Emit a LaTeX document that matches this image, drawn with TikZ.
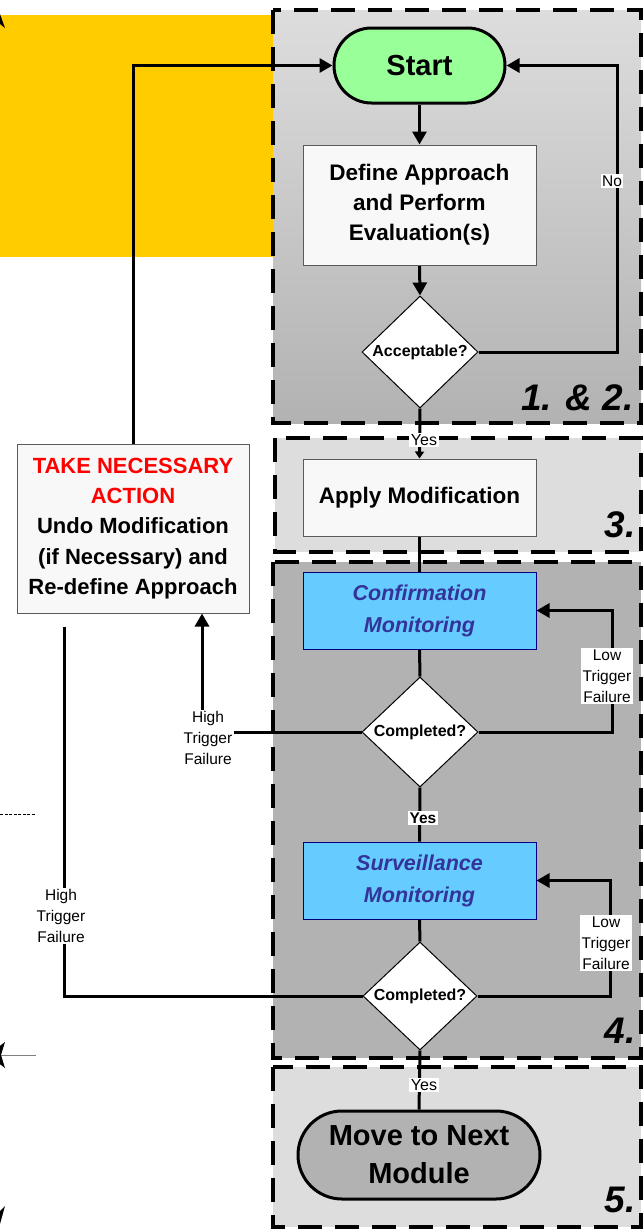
\documentclass[tikz,border=0pt]{standalone}
\usepackage{fontspec}
\setmainfont{Liberation Sans}
\usetikzlibrary{shapes.geometric,shapes.misc,arrows.meta}
\definecolor{yel}{RGB}{255,204,0}
\definecolor{lgray}{RGB}{221,221,221}
\definecolor{mgray}{RGB}{178,178,178}
\definecolor{sgreen}{RGB}{153,255,153}
\definecolor{sblue}{RGB}{102,204,255}
\definecolor{tblue}{RGB}{51,51,153}
\definecolor{navy}{RGB}{0,0,128}
\definecolor{boxfill}{RGB}{248,248,248}
\definecolor{boxline}{RGB}{90,90,90}
\pgfdeclarelayer{bglayer}
\pgfdeclarelayer{midlayer}
\pgfsetlayers{bglayer,midlayer,main}
\begin{document}
\begin{tikzpicture}[x=1pt,y=-1pt,
  panel/.style={draw=black,line width=4pt,dash pattern=on 24pt off 13pt},
  proc/.style={rectangle,draw=boxline,line width=1pt,fill=boxfill,minimum width=233pt,inner sep=0pt,align=center,font=\fontsize{22.5}{30}\selectfont\bfseries},
  mon/.style={rectangle,draw=navy,line width=1pt,fill=sblue,minimum width=233pt,minimum height=77pt,inner sep=0pt,align=center,text=tblue,font=\fontsize{21.5}{32}\selectfont\bfseries\itshape},
  dec/.style={diamond,draw=black,line width=1pt,fill=white,inner sep=0pt,font=\fontsize{16}{19}\selectfont\bfseries},
  term/.style={rounded rectangle,draw=black,line width=3pt,inner sep=0pt,align=center,font=\fontsize{29}{38}\selectfont\bfseries},
  conn/.style={line width=3pt},
  arr/.style={-{Triangle[width=14pt,length=13pt]}},
  lab/.style={fill=white,inner sep=1.5pt,align=center,font=\fontsize{15.5}{21}\selectfont},
  plab/.style={inner sep=0pt,font=\fontsize{37}{40}\selectfont\bfseries\itshape}
]
\useasboundingbox (0,0) rectangle (643,1232);
\begin{pgfonlayer}{bglayer}
% background regions
\fill[yel] (0,15) rectangle (273,257);
\fill[top color=lgray,bottom color=mgray] (273,10) rectangle (641,423);
\draw[panel] (273,10) rectangle (641,423);
\fill[lgray] (275,438) rectangle (641,552);
\draw[panel] (275,438) rectangle (641,552);
\fill[mgray] (273,562) rectangle (641,1058);
\draw[panel] (273,562) rectangle (641,1058);
\fill[lgray] (273,1067) rectangle (641,1227);
\draw[panel] (273,1067) rectangle (641,1227);
% fragments at the left edge
\fill (-5,28) -- (0,14) -- (5,28) -- (0,24) -- cycle;
\draw[line width=1pt,dash pattern=on 3pt off 1.5pt] (0,814) -- (36,814);
\draw[gray,line width=1pt] (0,1055) -- (36,1055);
\fill (-12,1055) -- (5,1042) -- (1,1055) -- (5,1068) -- cycle;
\fill (-5,1206) -- (0,1224) -- (5,1206) -- (0,1211) -- cycle;
\end{pgfonlayer}
% nodes
\node[term,fill=sgreen,minimum width=171pt,minimum height=75pt] (start) at (419.5,65.5) {Start};
\node[proc,minimum height=120pt] (define) at (419.5,205) {Define Approach\\and Perform\\Evaluation(s)};
\node[dec,minimum width=116pt,minimum height=112pt] (acc) at (420,352) {Acceptable?};
\node[proc,minimum height=77pt] (apply) at (419.5,497.5) {Apply Modification};
\node[mon] (conf) at (419.5,610.5) {Confirmation\\Monitoring};
\node[dec,minimum width=116pt,minimum height=110pt] (c1) at (420,732) {Completed?};
\node[mon] (surv) at (419.5,880.5) {Surveillance\\Monitoring};
\node[dec,minimum width=114pt,minimum height=108pt] (c2) at (420,996) {Completed?};
\node[term,fill=mgray,minimum width=242pt,minimum height=88pt] (move) at (419,1155) {Move to Next\\Module};
\node[proc,minimum width=232pt,minimum height=169pt,font=\fontsize{22}{30.3}\selectfont\bfseries] (take) at (133,528.5)
  {\textcolor{red}{TAKE NECESSARY}\\\textcolor{red}{ACTION}\\Undo Modification\\(if Necessary) and\\Re-define Approach};
\coordinate (hf2end) at (64,627);
% connectors
\begin{pgfonlayer}{midlayer}
\draw[conn,arr] (start.south) -- (define.north);
\draw[conn,arr] (define.south) -- (acc.north);
\draw[conn,arr] (acc.east) -- (617,352) |- (start.east);
\draw[conn,-{Triangle[width=9pt,length=7pt]}] (acc.south) -- (apply.north);
\draw[conn] (apply.south) -- (conf.north);
\draw[conn] (conf.south) -- (c1.north);
\draw[conn,arr] (c1.east) -- (612,732) |- (conf.east);
\draw[conn,arr] (c1.west) -| ([xshift=69pt]take.south);
\draw[conn] (c1.south) -- (surv.north);
\draw[conn] (surv.south) -- (c2.north);
\draw[conn,arr] (c2.east) -- (610,996) |- (surv.east);
\draw[conn] (c2.west) -| (hf2end);
\draw[conn,arr] (take.north) |- (start.west);
\draw[conn] (c2.south) -- (move.north);
\end{pgfonlayer}
% labels
\node[lab] (lno) at (612,181) {No};
\node[lab,font=\fontsize{16}{19}\selectfont] (lyes1) at (424,440) {Yes};
\node[lab] (llow1) at (607,676) {Low\\Trigger\\Failure};
\node[lab] (lhigh1) at (208,738) {High\\Trigger\\Failure};
\node[lab,font=\fontsize{15.5}{19}\selectfont\bfseries] (lyes2) at (423,818) {Yes};
\node[lab] (llow2) at (606,943) {Low\\Trigger\\Failure};
\node[lab] (lhigh2) at (61,916) {High\\Trigger\\Failure};
\node[lab,font=\fontsize{16}{19}\selectfont] (lyes3) at (424,1085) {Yes};
% panel numbers
\node[plab,anchor=base east] (p12) at (634,410) {1. \& 2.};
\node[plab,anchor=base east] (p3) at (636,537) {3.};
\node[plab,anchor=base east] (p4) at (636,1043) {4.};
\node[plab,anchor=base east] (p5) at (636,1212) {5.};
\end{tikzpicture}
\end{document}
